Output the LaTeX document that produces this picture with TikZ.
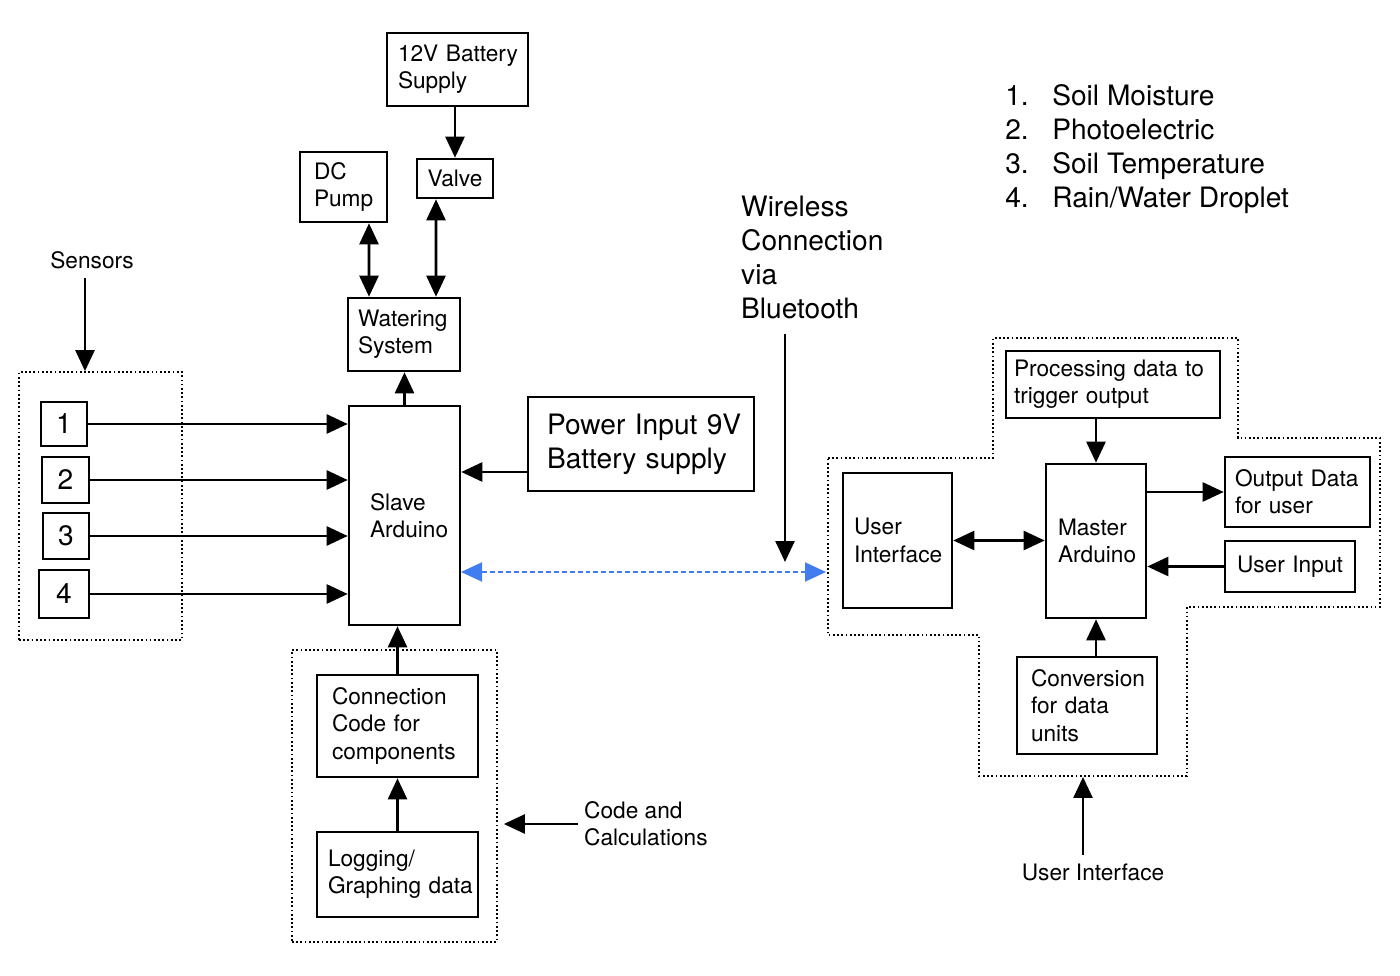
\documentclass[tikz,border=0pt]{standalone}
\usepackage{fontspec}
\setmainfont{TeX Gyre Heros}
\usetikzlibrary{arrows.meta}

\definecolor{btblue}{RGB}{66,125,240}
\newcommand{\txtn}{\fontsize{12.9}{15.6}\selectfont}
\newcommand{\txtl}{\fontsize{16}{19.3}\selectfont}

\tikzset{
  blk/.style={draw, line width=1.5pt, align=left, font=\txtn, inner ysep=0pt},
  grp/.style={draw, line width=1pt, dash pattern=on 1pt off 1.4pt},
  arr/.style={-{Triangle[length=0.42cm,width=0.38cm]}, line width=1.45pt},
  darr/.style={{Triangle[length=0.42cm,width=0.38cm]}-{Triangle[length=0.42cm,width=0.38cm]}, line width=1.45pt},
  barr/.style={{Triangle[length=0.42cm,width=0.38cm]}-{Triangle[length=0.42cm,width=0.38cm]}, line width=1.1pt, btblue, dash pattern=on 0.1cm off 0.06cm},
}

\begin{document}
\begin{tikzpicture}[x=0.02cm, y=-0.02cm]

    \useasboundingbox (0,0) rectangle (1400,976);

    % left side
    \node[blk, text width=1.38cm, inner xsep=0.42cm, minimum height=4.38cm] (slave) at (404.5,515.5) {Slave\\Arduino};
    \node[blk, text width=1.84cm, inner xsep=0.2cm, minimum height=1.46cm] (water) at (404,334.5) {Watering\\System};
    \node[blk, text width=1.18cm, inner xsep=0.28cm, minimum height=1.4cm] (pump) at (343.5,187) {DC\\Pump};
    \node[blk, align=center, minimum width=1.52cm, minimum height=0.78cm] (valve) at (455,178.5) {Valve};
    \node[blk, text width=2.38cm, inner xsep=0.22cm, minimum height=1.46cm] (bat) at (457.5,69.5) {\mbox{12V Battery}\\Supply};
    \node[blk, font=\txtl, text width=3.76cm, inner xsep=0.38cm, minimum height=1.88cm] (power) at (641,444) {\mbox{Power Input 9V}\\\mbox{Battery supply}};

    \node[grp, minimum width=3.26cm, minimum height=5.36cm] (sgrp) at (100.5,506) {};
    \node[font=\txtn] (sens) at (92,260) {Sensors};

    \foreach \n/\x/\y/\w/\h in {1/64/424/0.92/0.88, 2/65.5/480/0.94/0.92, 3/66/536/0.92/0.92, 4/64/594/1.0/0.96}{
        \node[blk, font=\txtl, align=center, minimum width=\w cm, minimum height=\h cm, inner sep=0pt] (s\n) at (\x,\y) {\n};
        \draw[arr] (s\n) -- (s\n -| slave.west);
    }

    \node[grp, minimum width=4.1cm, minimum height=5.84cm] (cgrp) at (394.5,796) {};
    \node[blk, text width=2.62cm, inner xsep=0.3cm, minimum height=2.04cm] (conn) at (397.5,726) {Connection\\Code for\\components};
    \node[blk, text width=2.78cm, inner xsep=0.22cm, minimum height=1.7cm] (log) at (397.5,874.5) {Logging/\\\mbox{Graphing data}};
    \node[font=\txtn, align=left, anchor=west] (calc) at (578,824) {Code and\\Calculations};

    % right side
    \node[blk, text width=1.52cm, inner xsep=0.24cm, minimum height=3.08cm] (master) at (1096,541) {Master\\Arduino};
    \node[blk, text width=1.74cm, inner xsep=0.22cm, minimum height=2.7cm] (ui) at (897.5,540.5) {User\\Interface};
    \node[blk, text width=3.96cm, inner xsep=0.16cm, minimum height=1.34cm] (proc) at (1113,384.5) {\mbox{Processing data to}\\trigger output};
    \node[blk, text width=2.5cm, inner xsep=0.2cm, minimum height=1.4cm] (outd) at (1297.5,492) {\mbox{Output Data}\\for user};
    \node[blk, text width=2.12cm, inner xsep=0.24cm, minimum height=1.02cm] (uin) at (1290,566.5) {\mbox{User Input}};
    \node[blk, text width=2.24cm, inner xsep=0.28cm, minimum height=1.94cm] (conv) at (1087,705.5) {Conversion\\for data\\units};
    \node[font=\txtn] (uilab) at (1093,872) {User Interface};

    \draw[grp] (828,458) -- (993,458) -- (993,338) -- (1238,338) -- (1238,438) -- (1380,438) -- (1380,607) -- (1187,607) -- (1187,776) -- (979,776) -- (979,635) -- (828,635) -- cycle;

    \node[font=\txtl, align=left, anchor=west] (wless) at (735,257.5) {Wireless\\Connection\\via\\Bluetooth};

    \foreach \i/\t in {1/Soil Moisture, 2/Photoelectric, 3/Soil Temperature, 4/{Rain/Water Droplet}}{
        \node[font=\txtl, anchor=base west, inner sep=0pt] (num\i) at (1005,{72+34*\i}) {\i.};
        \node[font=\txtl, anchor=base west, inner sep=0pt] (leg\i) at (1052,{72+34*\i}) {\t};
    }

    % free ends
    \coordinate (sensarr) at (85,278);
    \coordinate (wlarr) at (785,334);
    \coordinate (wlend) at (785,562);
    \coordinate (btl) at (461,572);
    \coordinate (btr) at (826,572);
    \coordinate (uiarr) at (1083,855);
    \coordinate (rbot) at (1083,777);
    \coordinate (pwrout) at ([yshift=-0.56cm]power.west);

    % connectors
    \draw[arr] (sensarr) -- (sensarr |- sgrp.north);
    \draw[arr] (valve.north |- bat.south) -- (valve.north);
    \draw[darr] ([xshift=0.51cm]pump.south) -- ([xshift=-0.7cm]water.north);
    \draw[darr] ([xshift=-0.38cm]valve.south) -- ([xshift=0.64cm]water.north);
    \draw[arr] (slave.north) -- (slave.north |- water.south);
    \draw[arr] (pwrout) -- (pwrout -| slave.east);
    \draw[arr] (conn.north) -- (conn.north |- slave.south);
    \draw[arr] (log.north) -- (log.north |- conn.south);
    \draw[arr, shorten >=0.12cm] (calc.west) -- (calc.west -| cgrp.east);
    \draw[barr] (btl) -- (btr);
    \draw[arr] (wlarr) -- (wlend);

    \draw[arr] (master.north |- proc.south) -- (master.north);
    \draw[darr] (ui.east) -- (ui.east -| master.west);
    \draw[arr] (outd.west -| master.east) -- (outd.west);
    \draw[arr] (uin.west) -- (uin.west -| master.east);
    \draw[arr] (master.south |- conv.north) -- (master.south);
    \draw[arr] (uiarr) -- (rbot);

\end{tikzpicture}
\end{document}
